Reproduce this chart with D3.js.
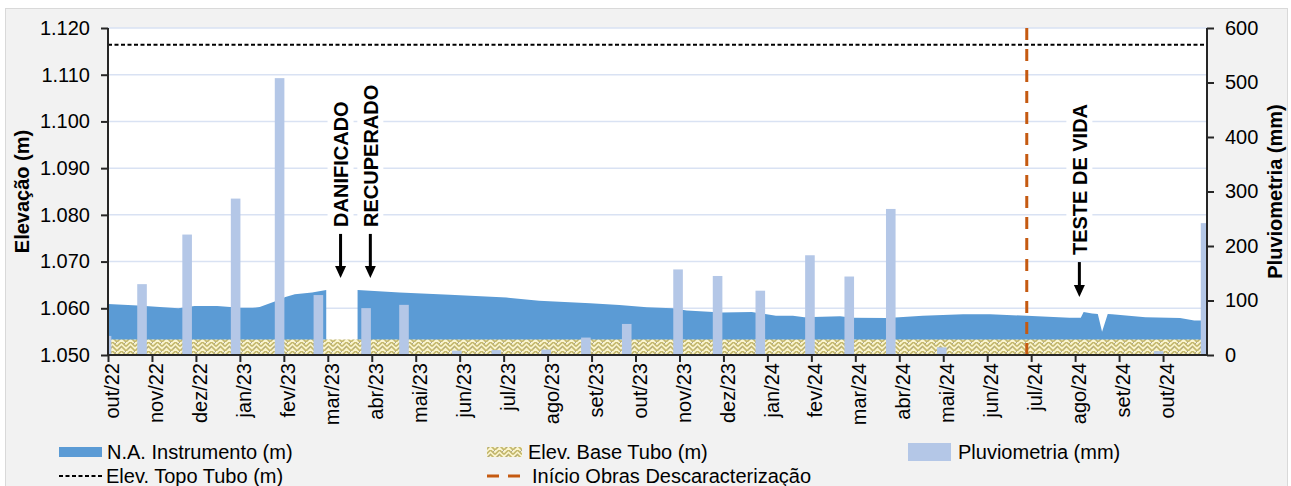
<!DOCTYPE html>
<html>
<head>
<meta charset="utf-8">
<script src="https://cdn.jsdelivr.net/npm/d3@7/dist/d3.min.js"></script>
<style>
  body { margin: 0; background: #ffffff; }
  svg text { font-family: "Liberation Sans", Arial, sans-serif; fill: #000; }
</style>
</head>
<body>
<script>
(function (d3) {
  "use strict";

  /***** Data *****/
  var monthLabels = ["out/22", "nov/22", "dez/22", "jan/23", "fev/23", "mar/23", "abr/23", "mai/23",
    "jun/23", "jul/23", "ago/23", "set/23", "out/23", "nov/23", "dez/23", "jan/24", "fev/24",
    "mar/24", "abr/24", "mai/24", "jun/24", "jul/24", "ago/24", "set/24", "out/24"];

  var naDates = ["2022-10-01", "2022-10-22", "2022-11-19", "2022-11-30", "2022-12-16", "2023-01-01",
    "2023-01-10", "2023-01-15", "2023-01-27", "2023-02-02", "2023-02-08", "2023-02-19", "2023-02-28",
    "2023-03-10", "2023-03-22", "2023-04-20", "2023-05-25", "2023-07-03", "2023-07-26", "2023-08-31",
    "2023-09-20", "2023-10-09", "2023-10-27", "2023-11-06", "2023-11-24", "2023-11-30", "2023-12-21",
    "2024-01-07", "2024-01-19", "2024-01-27", "2024-02-20", "2024-02-28", "2024-03-23", "2024-04-01",
    "2024-04-17", "2024-05-15", "2024-06-03", "2024-06-28", "2024-07-28", "2024-08-05", "2024-08-07",
    "2024-08-13", "2024-08-17", "2024-08-20", "2024-08-24", "2024-08-27", "2024-09-19", "2024-10-13",
    "2024-10-23", "2024-10-28"];
  var naValues = [1.0609, 1.0606, 1.0600, 1.0605, 1.0605, 1.0601,
    1.0601, 1.0603, 1.0616, 1.0624, 1.0630, 1.0634, 1.0639,
    null, 1.0639, 1.0634, 1.0629, 1.0623, 1.0616, 1.0611,
    1.0607, 1.0602, 1.0600, 1.0595, 1.0592, 1.0591, 1.0592,
    1.0584, 1.0584, 1.0581, 1.0583, 1.0580, 1.0579, 1.0581,
    1.0584, 1.0587, 1.0587, 1.0584, 1.0580, 1.0580, 1.0592,
    1.0589, 1.0588, 1.0550, 1.0588, 1.0587, 1.0581, 1.0579,
    1.0574, 1.0574];

  var pluvDates = ["2022-09-30", "2022-10-25", "2022-11-25", "2022-12-29", "2023-01-29", "2023-02-23",
    "2023-03-28", "2023-04-23", "2023-05-30", "2023-06-26", "2023-07-31", "2023-08-28", "2023-09-25",
    "2023-10-31", "2023-11-27", "2023-12-27", "2024-01-31", "2024-02-26", "2024-03-26", "2024-04-30",
    "2024-09-28", "2024-10-31"];
  var pluvValues = [35, 130, 221, 287, 508, 110, 86, 92, 8, 9, 10, 32, 57, 157, 145, 118, 183, 144, 268, 14, 7, 242];

  var topoTubo = 1.1164;
  var baseTubo = 1.0533;
  var inicioObras = "2024-06-28";

  var annotations = [
    { date: "2023-03-10", label: "DANIFICADO", tip: 1.0665, len: 44 },
    { date: "2023-03-31", label: "RECUPERADO", tip: 1.0665, len: 44 },
    { date: "2024-08-04", label: "TESTE DE VIDA", tip: 1.0624, len: 35 }
  ];

  var leftTicks = [1.050, 1.060, 1.070, 1.080, 1.090, 1.100, 1.110, 1.120];
  var rightTicks = [0, 100, 200, 300, 400, 500, 600];

  /***** Configuration *****/
  var W = 1291, H = 486;
  var plot = { left: 108, right: 1207, top: 28, bottom: 355 };
  var barWidth = 9.6;
  var fontSize = 20;

  // date string -> position in months from out/22 (each month has the same width)
  function monthPos(s) {
    var p = s.split("-").map(Number);
    var days = new Date(p[0], p[1], 0).getDate();
    return (p[0] - 2022) * 12 + (p[1] - 10) + (p[2] - 1) / days;
  }

  /***** Scales *****/
  var x = d3.scaleLinear().domain([0, 25]).range([plot.left, plot.right]);
  var yL = d3.scaleLinear().domain([1.050, 1.120]).range([plot.bottom, plot.top]);
  var yR = d3.scaleLinear().domain([0, 600]).range([plot.bottom, plot.top]);

  var naData = naDates.map(function (d, i) { return { m: monthPos(d), v: naValues[i] }; });
  var pluvData = pluvDates.map(function (d, i) { return { m: monthPos(d), v: pluvValues[i] }; });

  /***** SVG *****/
  var svg = d3.select("body").append("svg")
    .attr("width", W).attr("height", H);

  var defs = svg.append("defs");
  defs.append("clipPath").attr("id", "plotClip")
    .append("rect")
    .attr("x", plot.left).attr("y", plot.top)
    .attr("width", plot.right - plot.left).attr("height", plot.bottom - plot.top);

  // weave-like hatch for the tube base
  var pat = defs.append("pattern").attr("id", "weave")
    .attr("patternUnits", "userSpaceOnUse").attr("width", 9).attr("height", 9);
  pat.append("rect").attr("width", 9).attr("height", 9).attr("fill", "#fbf5cf");
  pat.append("path").attr("d", "M0,4.5 L4.5,0 L9,4.5 M0,9 L4.5,4.5 L9,9")
    .attr("fill", "none").attr("stroke", "#c4b86c").attr("stroke-width", 1.6);
  pat.append("path").attr("d", "M2.2,6.8 L4.5,4.5 M6.8,2.2 L9,0")
    .attr("fill", "none").attr("stroke", "#a29e92").attr("stroke-width", 0.9);

  // chart background
  svg.append("rect")
    .attr("x", 5.5).attr("y", 8.5).attr("width", 1282).attr("height", 490)
    .attr("fill", "#f2f2f2").attr("stroke", "#d9d9d9").attr("stroke-width", 1);

  svg.append("rect")
    .attr("x", plot.left).attr("y", plot.top)
    .attr("width", plot.right - plot.left).attr("height", plot.bottom - plot.top)
    .attr("fill", "#ffffff");

  /***** Gridlines *****/
  svg.append("g").selectAll("line")
    .data(leftTicks.slice(1))
    .enter().append("line")
    .attr("x1", plot.left).attr("x2", plot.right)
    .attr("y1", function (d) { return yL(d); }).attr("y2", function (d) { return yL(d); })
    .attr("stroke", "#d9e2f3").attr("stroke-width", 1.5);

  var g = svg.append("g").attr("clip-path", "url(#plotClip)");

  /***** N.A. Instrumento *****/
  var area = d3.area()
    .defined(function (d) { return d.v !== null; })
    .x(function (d) { return x(d.m); })
    .y0(yL(1.050))
    .y1(function (d) { return yL(d.v); });

  g.append("path").datum(naData)
    .attr("d", area)
    .attr("fill", "#5b9bd5");

  /***** Elev. Base Tubo *****/
  var baseData = [naData[0], naData[naData.length - 1]];
  g.append("path").datum(baseData)
    .attr("d", d3.area()
      .x(function (d) { return x(d.m); })
      .y0(yL(1.050))
      .y1(yL(baseTubo)))
    .attr("fill", "url(#weave)");

  /***** Pluviometria *****/
  g.selectAll("rect.pluv")
    .data(pluvData)
    .enter().append("rect")
    .attr("class", "pluv")
    .attr("x", function (d) { return x(d.m) - barWidth / 2; })
    .attr("width", barWidth)
    .attr("y", function (d) { return yR(d.v); })
    .attr("height", function (d) { return yR(0) - yR(d.v); })
    .attr("fill", "#b4c7e7");

  /***** Elev. Topo Tubo *****/
  g.append("line")
    .attr("x1", plot.left).attr("x2", plot.right)
    .attr("y1", yL(topoTubo)).attr("y2", yL(topoTubo))
    .attr("stroke", "#000").attr("stroke-width", 2)
    .attr("stroke-dasharray", "4,2.5");

  /***** Inicio Obras *****/
  g.append("line")
    .attr("x1", x(monthPos(inicioObras))).attr("x2", x(monthPos(inicioObras)))
    .attr("y1", plot.top).attr("y2", plot.bottom)
    .attr("stroke", "#c55a11").attr("stroke-width", 3)
    .attr("stroke-dasharray", "12,9");

  /***** Axes *****/
  var axisColor = "#262626";
  var leftAxis = svg.append("g")
    .attr("transform", "translate(" + plot.left + ",0)")
    .call(d3.axisLeft(yL).tickValues(leftTicks).tickSize(7).tickPadding(11)
      .tickFormat(d3.format(".3f")));
  var rightAxis = svg.append("g")
    .attr("transform", "translate(" + plot.right + ",0)")
    .call(d3.axisRight(yR).tickValues(rightTicks).tickSize(7).tickPadding(11));
  var bottomAxis = svg.append("g")
    .attr("transform", "translate(0," + plot.bottom + ")")
    .call(d3.axisBottom(x).tickValues(d3.range(25)).tickSize(7)
      .tickFormat(function (i) { return monthLabels[i]; }));

  [leftAxis, rightAxis, bottomAxis].forEach(function (ax) {
    ax.select(".domain").remove();
    ax.selectAll(".tick line").attr("stroke", axisColor).attr("stroke-width", 2);
    ax.selectAll(".tick text").attr("font-size", fontSize).attr("fill", "#000");
  });
  bottomAxis.selectAll(".tick text")
    .attr("transform", "rotate(-90)")
    .attr("text-anchor", "end")
    .attr("x", -8).attr("y", 0).attr("dy", "0.53em");

  svg.append("line").attr("x1", plot.left).attr("x2", plot.left)
    .attr("y1", plot.top).attr("y2", plot.bottom + 1)
    .attr("stroke", axisColor).attr("stroke-width", 2);
  svg.append("line").attr("x1", plot.right).attr("x2", plot.right)
    .attr("y1", plot.top).attr("y2", plot.bottom + 1)
    .attr("stroke", axisColor).attr("stroke-width", 2);
  svg.append("line").attr("x1", plot.left - 1).attr("x2", plot.right + 1)
    .attr("y1", plot.bottom).attr("y2", plot.bottom)
    .attr("stroke", axisColor).attr("stroke-width", 2);

  /***** Axis titles *****/
  svg.append("text")
    .attr("transform", "translate(22," + ((plot.top + plot.bottom) / 2) + ") rotate(-90)")
    .attr("text-anchor", "middle").attr("dy", "0.35em")
    .attr("font-size", fontSize).attr("font-weight", "bold")
    .text("Elevação (m)");
  svg.append("text")
    .attr("transform", "translate(1275," + ((plot.top + plot.bottom) / 2) + ") rotate(-90)")
    .attr("text-anchor", "middle").attr("dy", "0.35em")
    .attr("font-size", fontSize).attr("font-weight", "bold")
    .text("Pluviometria (mm)");

  /***** Annotations *****/
  annotations.forEach(function (a) {
    var ax = x(monthPos(a.date));
    var tipY = yL(a.tip);
    var lineTop = tipY - a.len;
    var textBottom = lineTop - 7;

    var tg = svg.append("g")
      .attr("transform", "translate(" + ax + "," + textBottom + ") rotate(-90)");
    var bg = tg.append("rect").attr("fill", "#ffffff");
    var t = tg.append("text")
      .attr("x", 0).attr("y", 0).attr("dy", "0.36em")
      .attr("font-size", fontSize).attr("font-weight", "bold")
      .text(a.label);
    var len = t.node().getComputedTextLength();
    bg.attr("x", -3).attr("y", -13).attr("width", len + 6).attr("height", 26);

    svg.append("line")
      .attr("x1", ax).attr("x2", ax)
      .attr("y1", lineTop).attr("y2", tipY - 10)
      .attr("stroke", "#000").attr("stroke-width", 3);
    svg.append("path")
      .attr("d", "M" + (ax - 5.5) + "," + (tipY - 12) + " L" + (ax + 5.5) + "," + (tipY - 12) +
        " L" + ax + "," + tipY + " Z")
      .attr("fill", "#000");
  });

  /***** Legend *****/
  var legend = svg.append("g");
  var row1 = 452, row2 = 476;

  legend.append("rect").attr("x", 59).attr("y", row1 - 5).attr("width", 43).attr("height", 10)
    .attr("fill", "#5b9bd5");
  legend.append("text").attr("x", 107).attr("y", row1).attr("dy", "0.35em")
    .attr("font-size", fontSize).text("N.A. Instrumento (m)");

  legend.append("rect").attr("x", 487).attr("y", row1 - 5).attr("width", 35).attr("height", 10)
    .attr("fill", "url(#weave)");
  legend.append("text").attr("x", 528).attr("y", row1).attr("dy", "0.35em")
    .attr("font-size", fontSize).text("Elev. Base Tubo (m)");

  legend.append("rect").attr("x", 908).attr("y", row1 - 9).attr("width", 43).attr("height", 18)
    .attr("fill", "#b4c7e7");
  legend.append("text").attr("x", 958).attr("y", row1).attr("dy", "0.35em")
    .attr("font-size", fontSize).text("Pluviometria (mm)");

  legend.append("line").attr("x1", 59).attr("x2", 103).attr("y1", row2).attr("y2", row2)
    .attr("stroke", "#000").attr("stroke-width", 2).attr("stroke-dasharray", "4,2.5");
  legend.append("text").attr("x", 106).attr("y", row2).attr("dy", "0.35em")
    .attr("font-size", fontSize).text("Elev. Topo Tubo (m)");

  legend.append("line").attr("x1", 487).attr("x2", 523).attr("y1", row2).attr("y2", row2)
    .attr("stroke", "#c55a11").attr("stroke-width", 3).attr("stroke-dasharray", "12,9");
  legend.append("text").attr("x", 532).attr("y", row2).attr("dy", "0.35em")
    .attr("font-size", fontSize).text("Início Obras Descaracterização");

})(d3);
</script>
</body>
</html>
